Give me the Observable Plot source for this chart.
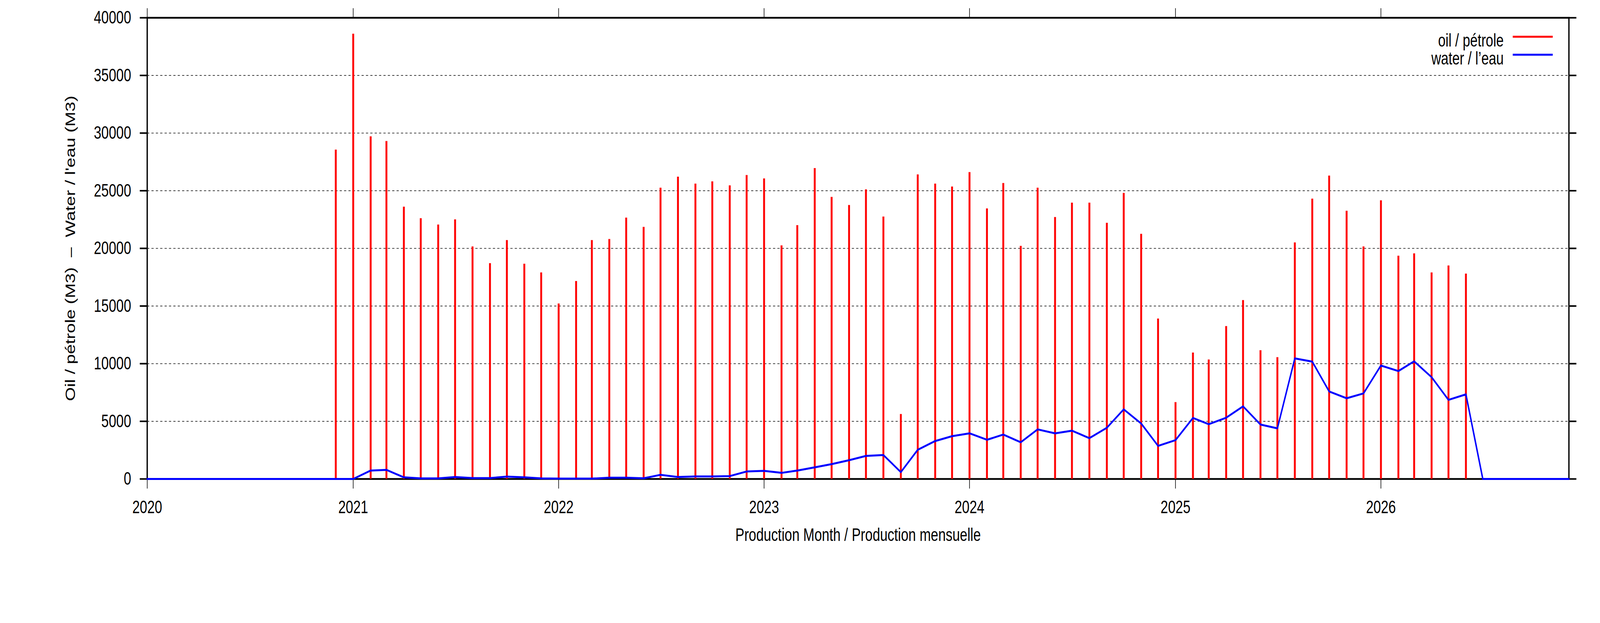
<!DOCTYPE html>
<html>
<head>
<meta charset="utf-8">
<script src="https://cdn.jsdelivr.net/npm/d3@7"></script>
<script src="https://cdn.jsdelivr.net/npm/@observablehq/plot@0.6"></script>
<style>
  html, body { margin: 0; padding: 0; background: #ffffff; overflow: hidden; }
  #wrap { position: relative; background: #ffffff; }
  #wrap svg { display: block; max-width: none; }
</style>
</head>
<body>
<div id="wrap"></div>
<script>
// Production months (first of month)
const months = [
  "2020-01","2020-02","2020-03","2020-04","2020-05","2020-06","2020-07","2020-08","2020-09","2020-10","2020-11","2020-12",
  "2021-01","2021-02","2021-03","2021-04","2021-05","2021-06","2021-07","2021-08","2021-09","2021-10","2021-11","2021-12",
  "2022-01","2022-02","2022-03","2022-04","2022-05","2022-06","2022-07","2022-08","2022-09","2022-10","2022-11","2022-12",
  "2023-01","2023-02","2023-03","2023-04","2023-05","2023-06","2023-07","2023-08","2023-09","2023-10","2023-11","2023-12",
  "2024-01","2024-02","2024-03","2024-04","2024-05","2024-06","2024-07","2024-08","2024-09","2024-10","2024-11","2024-12",
  "2025-01","2025-02","2025-03","2025-04","2025-05","2025-06","2025-07","2025-08","2025-09","2025-10","2025-11","2025-12",
  "2026-01","2026-02","2026-03","2026-04","2026-05","2026-06","2026-07","2026-08","2026-09","2026-10","2026-11","2026-12"
];

// Oil / pétrole (M3)
const oil = [
  0, 0, 0, 0, 0, 0, 0, 0, 0, 0, 0, 28550,
  38600, 29700, 29300, 23600, 22600, 22050, 22500, 20150, 18700, 20700, 18650, 17900,
  15200, 17150, 20700, 20800, 22650, 21850, 25250, 26200, 25600, 25800, 25450, 26350,
  26050, 20250, 22000, 26950, 24450, 23750, 25100, 22750, 5620, 26400, 25600, 25350,
  26600, 23450, 25650, 20200, 25250, 22700, 23950, 23950, 22200, 24800, 21250, 13900,
  6650, 10950, 10350, 13250, 15500, 11150, 10550, 20500, 24300, 26300, 23250, 20150,
  24150, 19350, 19550, 17900, 18500, 17800, null, null, null, null, null, null
];

// Water / l'eau (M3)
const water = [
  0, 0, 0, 0, 0, 0, 0, 0, 0, 0, 0, 0,
  0, 730, 790, 140, 50, 50, 170, 80, 80, 200, 140, 50,
  30, 30, 30, 110, 110, 60, 360, 170, 220, 220, 250, 650,
  700, 530, 730, 1010, 1290, 1630, 2000, 2080, 590, 2530, 3290, 3710,
  3960, 3400, 3850, 3180, 4300, 3960, 4190, 3540, 4440, 6040, 4810, 2870,
  3370, 5290, 4750, 5310, 6300, 4720, 4390, 10460, 10180, 7590, 7000, 7420,
  9840, 9360, 10200, 8830, 6860, 7340, 0, 0, 0, 0, 0, 0
];

const yTicks = [0, 5000, 10000, 15000, 20000, 25000, 30000, 35000, 40000];
const yGrid = [5000, 10000, 15000, 20000, 25000, 30000, 35000];
const xTickLabels = ["2020", "2021", "2022", "2023", "2024", "2025", "2026"];

const seriesNames = ["oil / pétrole", "water / l’eau"];
const seriesColors = ["#ff0000", "#0000ff"];
const xTitle = "Production Month / Production mensuelle";
const yTitle = "Oil / pétrole (M3)  –  Water / l'eau (M3)";

const parseMonth = d3.utcParse("%Y-%m");
const parseYear = d3.utcParse("%Y");
const data = months.map((m, i) => ({date: parseMonth(m), oil: oil[i], water: water[i]}));
const oilData = data.filter(d => d.oil != null && d.oil > 0);
const xTicks = xTickLabels.map(parseYear);

// Design size of the reference picture
const W = 5483, H = 1594;
const font = "'Liberation Sans', Arial, Helvetica, sans-serif";

const chart = Plot.plot({
  width: W,
  height: H,
  marginLeft: 504,
  marginRight: 107,
  marginTop: 45,
  marginBottom: 369,
  style: {fontFamily: font, fontSize: "46px", background: "#ffffff", color: "#000000", overflow: "visible"},
  x: {type: "utc", domain: [parseMonth(months[0]), parseMonth(months[months.length - 1])], label: null},
  y: {type: "linear", domain: [0, 40000], label: null},
  marks: [
    Plot.gridY(yGrid, {stroke: "#000000", strokeOpacity: 1, strokeWidth: 1.5, strokeDasharray: "7.5,7.5"}),
    Plot.frame({stroke: "#000000", strokeWidth: 4.5}),
    Plot.axisY(yTicks, {
      anchor: "left", tickSize: 25, tickPadding: 30, strokeWidth: 4,
      tickFormat: d => String(d),
      label: yTitle, labelAnchor: "center", labelOffset: 280, labelArrow: "none"
    }),
    Plot.axisY(yTicks, {anchor: "right", tickSize: 25, strokeWidth: 4, tickFormat: () => "", label: null}),
    Plot.axisX(xTicks, {
      anchor: "bottom", tickSize: 25, tickPadding: 30, strokeWidth: 2,
      tickFormat: d => String(d.getUTCFullYear()),
      label: null
    }),
    Plot.axisX(xTicks, {anchor: "top", tickSize: 25, strokeWidth: 2, tickFormat: () => "", label: null}),
    Plot.text([xTitle], {frameAnchor: "bottom", dy: 158, lineAnchor: "bottom", fontSize: 46, fill: "#000000"}),
    Plot.ruleX(oilData, {x: "date", y1: 0, y2: "oil", stroke: seriesColors[0], strokeWidth: 6.5}),
    Plot.line(data, {x: "date", y: "water", stroke: seriesColors[1], strokeWidth: 5, curve: "linear"})
  ]
});

const wrap = document.getElementById("wrap");
wrap.appendChild(chart);

// Legend (top right inside the frame), drawn into the same SVG
const svg = d3.select(chart);
const leg = svg.append("g").attr("class", "legend")
  .attr("font-family", font).attr("font-size", 46);
const legLineY = [94, 140];
seriesNames.forEach((name, i) => {
  leg.append("text")
    .attr("x", 5153).attr("y", legLineY[i] + 25)
    .attr("text-anchor", "end").attr("fill", "#000000")
    .text(name);
  leg.append("line")
    .attr("x1", 5184).attr("x2", 5321)
    .attr("y1", legLineY[i]).attr("y2", legLineY[i])
    .attr("stroke", seriesColors[i]).attr("stroke-width", 5);
});

// The browser window is narrower than the reference: map the 5483x1594 design onto the whole viewport
function fit() {
  const vw = document.documentElement.clientWidth || window.innerWidth || W;
  const vh = document.documentElement.clientHeight || window.innerHeight || H;
  chart.setAttribute("viewBox", `0 0 ${W} ${H}`);
  chart.setAttribute("preserveAspectRatio", "none");
  chart.style.width = vw + "px";
  chart.style.height = vh + "px";
}
fit();
window.addEventListener("resize", fit);
</script>
</body>
</html>
